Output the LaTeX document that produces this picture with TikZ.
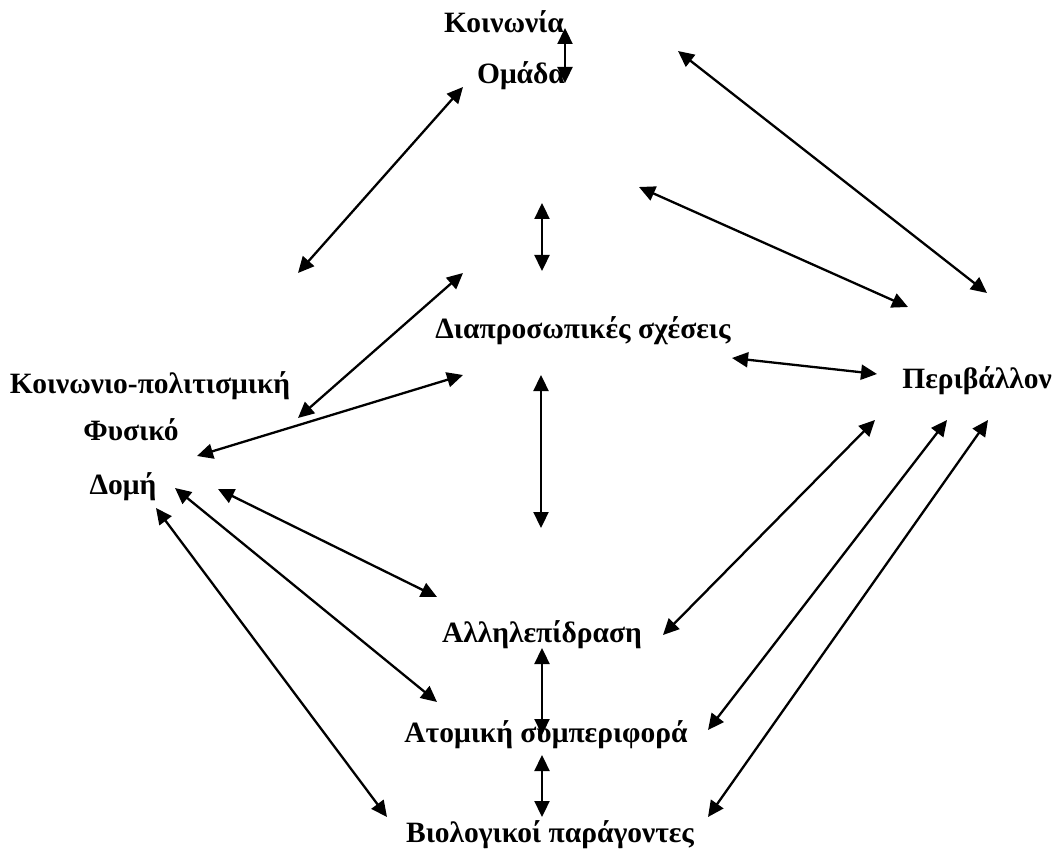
\documentclass[tikz,border=0pt]{standalone}
\usepackage{fontspec}
\setmainfont{Liberation Serif}
\usetikzlibrary{arrows.meta}
\begin{document}
\begin{tikzpicture}[x=1pt,y=-1pt,
  lbl/.style={anchor=base, inner sep=0pt, font=\fontsize{29.5}{31}\selectfont\bfseries},
  link/.style={line width=2.3pt, {Triangle[length=16pt,width=15pt]}-{Triangle[length=16pt,width=15pt]}}]
\useasboundingbox (0,0) rectangle (1055,850);
% labels
\node[lbl] (koin) at (504,33) {Κοινωνία};
\node[lbl] (omada) at (521,84) {Ομάδα};
\node[lbl] (kp) at (150,393) {Κοινωνιο-πολιτισμική};
\node[lbl] (fys) at (131,440) {Φυσικό};
\node[lbl] (domi) at (123,494) {Δομή};
\node[lbl] (diap) at (583,338) {Διαπροσωπικές σχέσεις};
\node[lbl] (periv) at (977,388) {Περιβάλλον};
\node[lbl] (allil) at (542,642) {Αλληλεπίδραση};
\node[lbl] (atom) at (546,742) {Ατομική συμπεριφορά};
\node[lbl] (biol) at (550,842) {Βιολογικοί παράγοντες};
% arrow ends
\coordinate (k1) at (565,28);  \coordinate (k2) at (565,83);
\coordinate (o1) at (463,87);  \coordinate (o2) at (298,273);
\coordinate (t1) at (678,51);  \coordinate (t2) at (987,293);
\coordinate (t3) at (639,187); \coordinate (t4) at (908,307);
\coordinate (v1) at (542,203); \coordinate (v2) at (542,271);
\coordinate (d1) at (463,273); \coordinate (d2) at (298,418);
\coordinate (p1) at (732,358); \coordinate (p2) at (877,374);
\coordinate (d3) at (463,375); \coordinate (d4) at (197,456);
\coordinate (v3) at (541,375); \coordinate (v4) at (541,528);
\coordinate (l1) at (218,489); \coordinate (l2) at (437,597);
\coordinate (l3) at (175,488); \coordinate (l4) at (437,702);
\coordinate (l5) at (156,508); \coordinate (l6) at (387,817);
\coordinate (r1) at (875,420); \coordinate (r2) at (663,635);
\coordinate (r3) at (947,420); \coordinate (r4) at (708,730);
\coordinate (r5) at (988,420); \coordinate (r6) at (708,817);
\coordinate (v5) at (542,648); \coordinate (v6) at (542,735);
\coordinate (v7) at (542,755); \coordinate (v8) at (542,817);
% connectors
\foreach \a/\b in {k1/k2,o1/o2,t1/t2,t3/t4,v1/v2,d1/d2,p1/p2,d3/d4,v3/v4,l1/l2,l3/l4,l5/l6,r1/r2,r3/r4,r5/r6,v5/v6,v7/v8}
  \draw[link] (\a) -- (\b);
\end{tikzpicture}
\end{document}
